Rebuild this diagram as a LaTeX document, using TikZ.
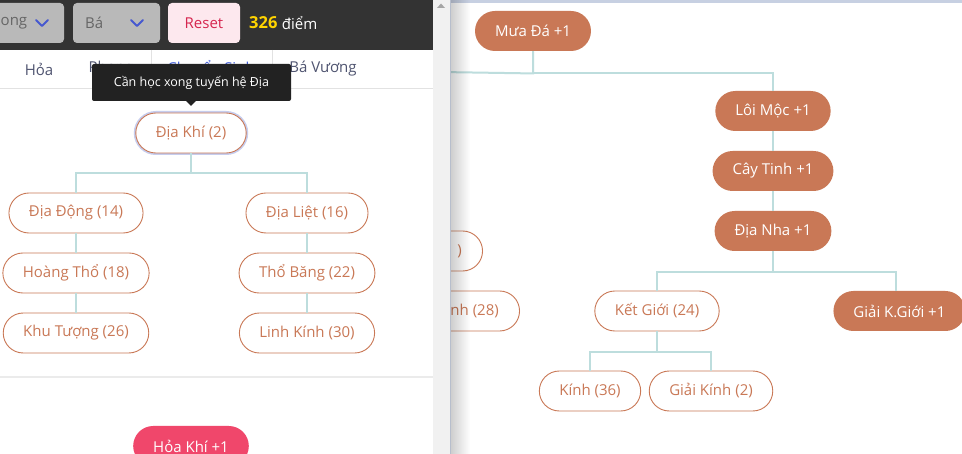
\documentclass[tikz,border=0pt]{standalone}
\usepackage{fontspec}
\setmainfont{Open Sans}
\usetikzlibrary{positioning,fadings}
\definecolor{barc}{HTML}{333333}
\definecolor{selc}{HTML}{B9B9B9}
\definecolor{seltxt}{HTML}{666666}
\definecolor{chevc}{HTML}{4658D0}
\definecolor{resetbg}{HTML}{FDE8EE}
\definecolor{resetc}{HTML}{D6264F}
\definecolor{goldc}{HTML}{FFD400}
\definecolor{skillc}{HTML}{C97856}
\definecolor{linkc}{HTML}{BDDDDD}
\definecolor{firec}{HTML}{F0476B}
\definecolor{ringc}{HTML}{C6CDEE}
\definecolor{tabc}{HTML}{4F5470}
\definecolor{tabon}{HTML}{3F5BD8}
\definecolor{tipc}{HTML}{222222}
\definecolor{paneg}{HTML}{F1F1F1}
\definecolor{rulec}{HTML}{E2E2E2}
\definecolor{topc}{HTML}{C7D0E2}
\definecolor{edgec}{HTML}{B7BECC}
\newcommand\fs{\fontsize{15}{17}\selectfont}
\tikzset{
  skill/.style={rectangle,rounded corners=20pt,draw=skillc,line width=0.9pt,fill=white,text=skillc,minimum height=40pt,inner xsep=20pt,font=\fs},
  skillon/.style={skill,draw=none,fill=skillc,text=white},
  fire/.style={skillon,fill=firec},
  link/.style={draw=linkc,line width=2pt},
  selbox/.style={rectangle,rounded corners=4pt,fill=selc,minimum height=40pt,inner sep=0pt},
  chev/.style={draw=chevc,line width=2pt,line cap=round,line join=round},
  tab/.style={text=tabc,font=\fs},
  tip/.style={rectangle,rounded corners=2pt,fill=tipc,text=white,minimum width=199pt,minimum height=37pt,font=\fontsize{12.5}{14}\selectfont},
}
\begin{document}
\begin{tikzpicture}[x=1pt,y=-1pt]
  \useasboundingbox (0,0) rectangle (962,454);
  \clip (0,0) rectangle (962,454);
  \fill[white] (0,0) rectangle (962,454);
  % left page: header
  \fill[barc] (0,0) rectangle (433,50);
  \node[selbox,minimum width=84pt] (sel1) at (22,23) {};
  \node[selbox,minimum width=87pt] (sel2) at (116.5,23) {};
  \node[text=seltxt,font=\fs,anchor=west,inner sep=0pt] (sel1t) at (0.5,23) {ong};
  \node[text=seltxt,font=\fs,anchor=west,inner sep=0pt] (sel2t) at (85,23) {Bá};
  \draw[chev] (36,20) -- (42,26) -- (48,20);
  \draw[chev] (131,20) -- (137,26) -- (143,20);
  \node[selbox,fill=resetbg,minimum width=72pt,text=resetc,font=\fs] (reset) at (204,23) {Reset};
  \node[anchor=west,inner sep=0pt,font=\fontsize{16.5}{18}\selectfont\bfseries,text=goldc] (score) at (249,23) {326};
  \node[right=4pt of score,inner sep=0pt,font=\fs,text=white] (diem) {điểm};
  % tabs
  \draw[rulec] (0,88.5) -- (433,88.5);
  \draw[rulec] (151.5,50) -- (151.5,88);
  \draw[rulec] (272.5,50) -- (272.5,88);
  \node[tab] (thoa) at (39,69) {Hỏa};
  \node[tab] (tphong) at (111,69) {Phong};
  \node[tab,text=tabon] (tchuyen) at (211,69) {Chuyển Sinh};
  \node[tab] (tba) at (323,69) {Bá Vương};
  % left tree
  \node[skill,preaction={draw=ringc,line width=4pt}] (dk) at (191,133) {Địa Khí (2)};
  \node[skill] (dd) at (76,213) {Địa Động (14)};
  \node[skill] (dl) at (307,213) {Địa Liệt (16)};
  \node[skill] (ht) at (76,273) {Hoàng Thổ (18)};
  \node[skill] (tb) at (307,273) {Thổ Băng (22)};
  \node[skill] (kt) at (76,333) {Khu Tượng (26)};
  \node[skill] (lk) at (307,333) {Linh Kính (30)};
  \draw[link] (dk.south) -- ++(0,20) -| (dd.north);
  \draw[link] (dk.south) -- ++(0,20) -| (dl.north);
  \draw[link] (dd) -- (ht);
  \draw[link] (ht) -- (kt);
  \draw[link] (dl) -- (tb);
  \draw[link] (tb) -- (lk);
  \draw[rulec!70,line width=2pt] (0,377) -- (433,377);
  \node[fire] (hk) at (191,446) {Hỏa Khí +1};
  % tooltip
  \node[tip] (tooltip) at (191.5,82.5) {Cần học xong tuyến hệ Địa};
  \fill[tipc] (185,100) -- (197,100) -- (191,106) -- cycle;
  % scrollbar
  \fill[paneg] (433,0) rectangle (450,454);
  \fill[black!35] (437,8) -- (445,8) -- (441,3.5) -- cycle;
  % right window
  \begin{scope}
    \clip (450,0) rectangle (962,454);
    \fill[white] (450,0) rectangle (962,454);
    \fill[topc] (450,0) rectangle (962,3.5);
    \node[skillon] (md) at (533,31) {Mưa Đá +1};
    \node[skillon] (lm) at (773,111) {Lôi Mộc +1};
    \node[skillon] (ct) at (773,171) {Cây Tinh +1};
    \node[skillon] (dn) at (773,231) {Địa Nha +1};
    \node[skill] (kg) at (657,311) {Kết Giới (24)};
    \node[skillon,anchor=west] (gkg) at (833,311) {Giải K.Giới +1};
    \node[skill] (kn) at (590,391) {Kính (36)};
    \node[skill] (gk) at (711,391) {Giải Kính (2)};
    \node[skill,anchor=east,minimum width=110pt] (off1) at (483,251) {};
    \node[skill,anchor=east,minimum width=140pt] (off2) at (520,311) {};
    \node[anchor=east,inner sep=0pt,text=skillc,font=\fs] (off1t) at ([xshift=-21pt]off1.east) {)};
    \node[anchor=east,inner sep=0pt,text=skillc,font=\fs] (off2t) at ([xshift=-21pt]off2.east) {Linh (28)};
    \coordinate (mdl) at (440,72);
    \draw[link] (md.south) -- ++(0,22) -| (lm.north);
    \draw[link] (md.south) -- ++(0,22) -- (mdl);
    \draw[link] (lm) -- (ct);
    \draw[link] (ct) -- (dn);
    \draw[link] (dn.south) -- ++(0,21) -| (kg.north);
    \draw[link] (dn.south) -- ++(0,21) -| ([xshift=-3pt]gkg.north);
    \draw[link] (kg.south) -- ++(0,21) -| (kn.north);
    \draw[link] (kg.south) -- ++(0,21) -| (gk.north);
    \fill[black,opacity=0.2,path fading=east] (450,0) rectangle (470,454);
    \draw[edgec,line width=1.2pt] (450.6,0) -- (450.6,454);
  \end{scope}
\end{tikzpicture}
\end{document}
